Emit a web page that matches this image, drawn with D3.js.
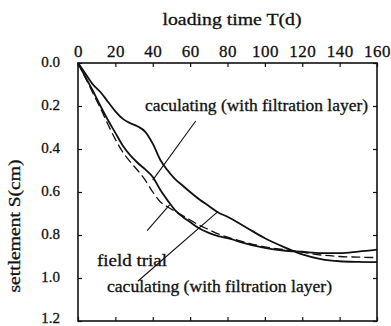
<!DOCTYPE html>
<html><head><meta charset="utf-8">
<script src="https://cdn.jsdelivr.net/npm/d3@7"></script>
<style>
html,body{margin:0;padding:0;background:#fff;}
svg{display:block;}
svg text{font-family:"Liberation Serif","DejaVu Serif","Times New Roman",serif !important;fill:#111;stroke:#111;stroke-width:0.3px;}
</style></head>
<body>
<svg id="chart" width="391" height="326"></svg>
<script>
// ---- data ----
const days = [0,4,8,12,16,20,24,28,32,36,40,44,48,52,56,60,65,70,75,80,90,100,110,120,130,140,150,160];
// calculating curve with the bump (slower settlement)
const calcUpper = [0,0.05,0.10,0.135,0.18,0.225,0.26,0.28,0.295,0.32,0.375,0.45,0.50,0.54,0.57,0.60,0.635,0.665,0.695,0.715,0.765,0.815,0.855,0.89,0.912,0.922,0.925,0.926];
// calculating curve (faster settlement)
const calcLower = [0,0.065,0.13,0.20,0.265,0.325,0.385,0.43,0.465,0.495,0.53,0.59,0.64,0.685,0.715,0.74,0.77,0.79,0.805,0.815,0.84,0.86,0.872,0.878,0.884,0.884,0.877,0.868];
// field trial (dashed)
const fieldTrial = [0,0.07,0.14,0.21,0.285,0.355,0.415,0.46,0.50,0.545,0.60,0.645,0.67,0.69,0.71,0.73,0.755,0.775,0.795,0.81,0.835,0.855,0.868,0.88,0.893,0.90,0.903,0.905];
const xTicks = [0,20,40,60,80,100,120,140,160];
const yTicks = [0,0.2,0.4,0.6,0.8,1.0,1.2];
const xTitle = "loading time T(d)";
const yTitle = "settlement S(cm)";
const labelCalcTop = "caculating (with filtration layer)";
const labelField = "field trial";
const labelCalcBottom = "caculating (with filtration layer)";

// ---- layout ----
const svg = d3.select("#chart");
const L = 78, R = 377, T = 63, B = 321;
const x = d3.scaleLinear().domain([0,160]).range([L,R]);
const y = d3.scaleLinear().domain([0,1.2]).range([T,B]);

// frame
svg.append("rect").attr("x",L).attr("y",T).attr("width",R-L).attr("height",B-T)
  .attr("fill","none").attr("stroke","#111").attr("stroke-width",1.6);

// axes
const gTop = svg.append("g").attr("transform",`translate(0,${T})`)
  .call(d3.axisTop(x).tickValues(xTicks).tickFormat(d3.format("d")).tickSizeInner(-4).tickSizeOuter(0).tickPadding(6));
const gBot = svg.append("g").attr("transform",`translate(0,${B})`)
  .call(d3.axisBottom(x).tickValues(xTicks).tickFormat("").tickSizeInner(-4).tickSizeOuter(0));
const gLeft = svg.append("g").attr("transform",`translate(${L},0)`)
  .call(d3.axisLeft(y).tickValues(yTicks).tickFormat(d3.format(".1f")).tickSizeInner(-4).tickSizeOuter(0).tickPadding(18));
const gRight = svg.append("g").attr("transform",`translate(${R},0)`)
  .call(d3.axisRight(y).tickValues(yTicks).tickFormat("").tickSizeInner(-4).tickSizeOuter(0));
[gTop,gBot,gLeft,gRight].forEach(g=>{
  g.attr("font-family",null);
  g.select(".domain").remove();
  g.selectAll(".tick line").attr("stroke","#111").attr("stroke-width",1.2);
});
gTop.selectAll("text").attr("font-size",17).attr("letter-spacing",0.5);
gLeft.selectAll("text").attr("font-size",15).attr("dy",(d,i)=> i===yTicks.length-1 ? "0.08em" : "0.22em");

// titles
svg.append("text").attr("x",232).attr("y",25).attr("text-anchor","middle")
  .attr("font-size",17).attr("textLength",139).attr("lengthAdjust","spacingAndGlyphs").text(xTitle);
svg.append("text").attr("transform","translate(20,226) rotate(-90)").attr("text-anchor","middle")
  .attr("font-size",17).attr("textLength",133).attr("lengthAdjust","spacingAndGlyphs").text(yTitle);

// curves
const line = d3.line().x((d,i)=>x(days[i])).y(d=>y(d)).curve(d3.curveMonotoneX);
svg.append("path").datum(calcUpper).attr("d",line).attr("fill","none").attr("stroke","#111").attr("stroke-width",1.8);
svg.append("path").datum(calcLower).attr("d",line).attr("fill","none").attr("stroke","#111").attr("stroke-width",1.8);
svg.append("path").datum(fieldTrial).attr("d",line).attr("fill","none").attr("stroke","#111").attr("stroke-width",1.3).attr("stroke-dasharray","9,4");

// annotations (leader lines in data coordinates)
const leaders = [
  [[63,0.27],[40,0.545]],
  [[37,0.78],[49,0.66]],
  [[32,1.015],[75,0.69]]
];
leaders.forEach(s=>{
  svg.append("line").attr("x1",x(s[0][0])).attr("y1",y(s[0][1])).attr("x2",x(s[1][0])).attr("y2",y(s[1][1]))
    .attr("stroke","#111").attr("stroke-width",1.1);
});
svg.append("text").attr("x",145).attr("y",111).attr("font-size",16)
  .attr("textLength",223).attr("lengthAdjust","spacingAndGlyphs").text(labelCalcTop);
svg.append("text").attr("x",97).attr("y",266).attr("font-size",17)
  .attr("textLength",70).attr("lengthAdjust","spacingAndGlyphs").text(labelField);
svg.append("text").attr("x",107).attr("y",292).attr("font-size",16)
  .attr("textLength",225).attr("lengthAdjust","spacingAndGlyphs").text(labelCalcBottom);
</script>
</body></html>
